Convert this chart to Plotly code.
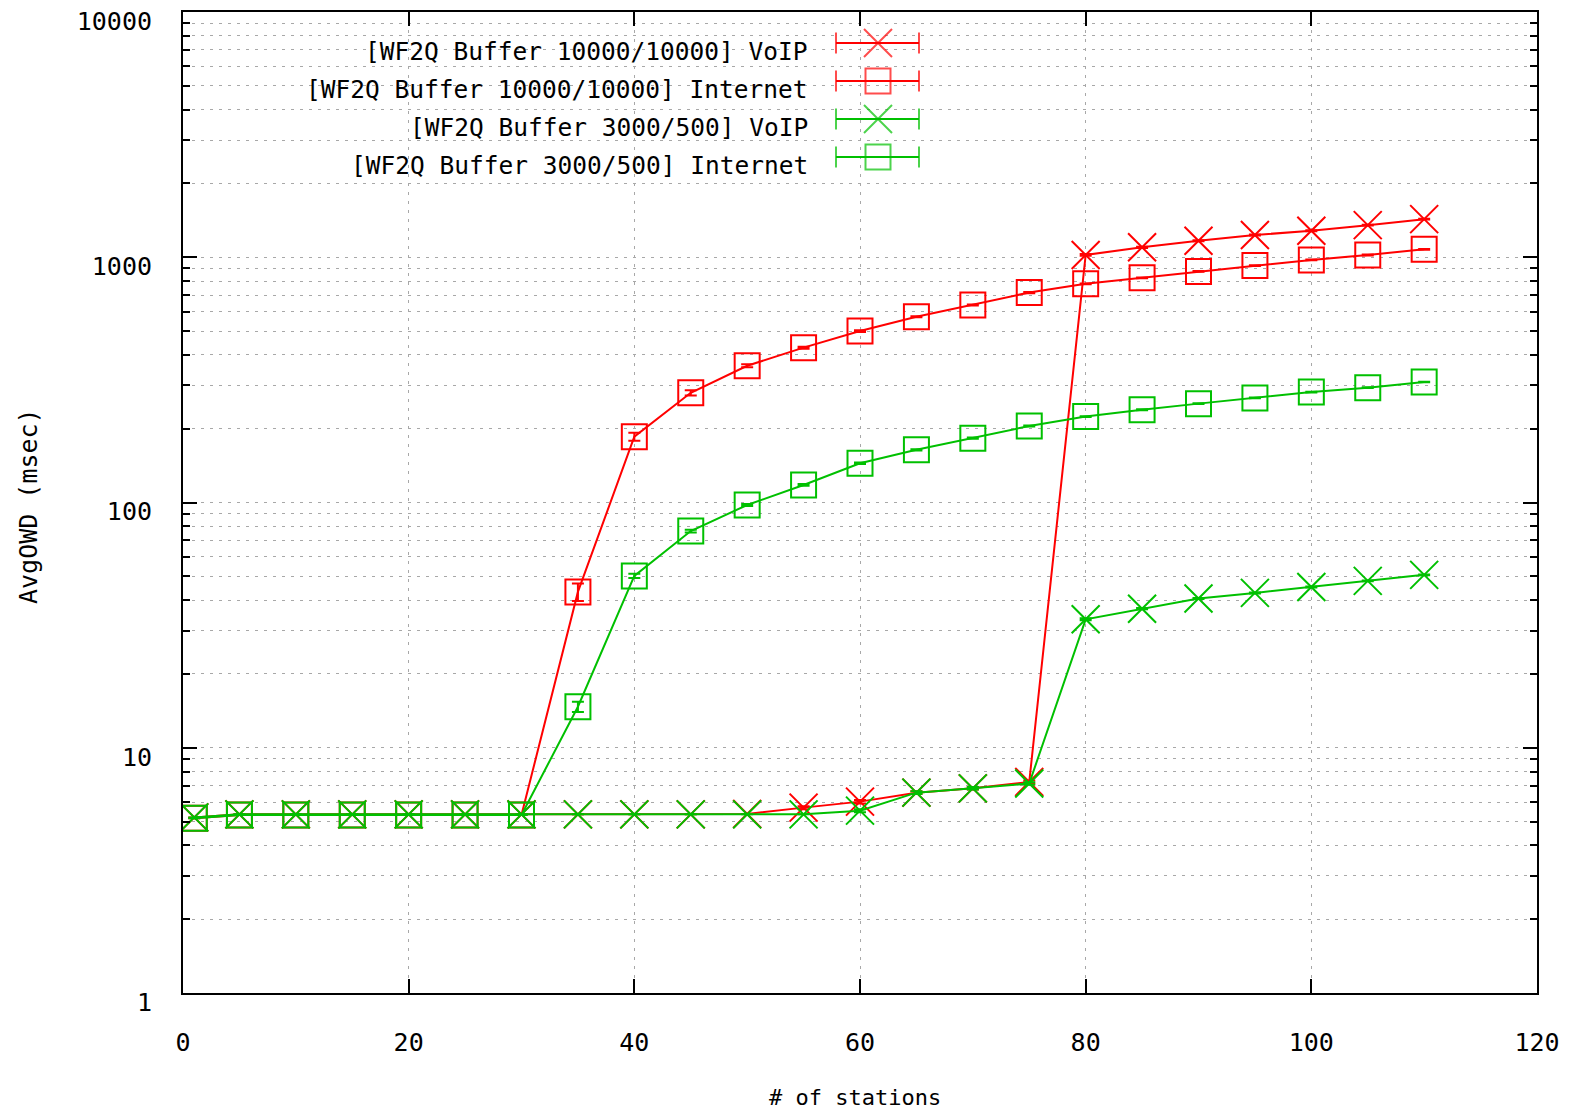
import plotly.graph_objects as go

# ---- data -------------------------------------------------------------
stations = [1, 5, 10, 15, 20, 25, 30, 35, 40, 45, 50, 55, 60, 65, 70, 75,
            80, 85, 90, 95, 100, 105, 110]

red_voip = [5.2, 5.35, 5.35, 5.35, 5.35, 5.35, 5.35, 5.35, 5.35, 5.35, 5.37,
            5.7, 6.03, 6.56, 6.83, 7.25, 1022, 1098, 1168, 1232, 1283, 1352, 1430]
red_voip_err = [0, 0, 0, 0, 0, 0, 0, 0, 0, 0, 0, 0.08, 0.1, 0.08, 0.08, 0.1,
                8, 6, 6, 6, 6, 6, 6]

red_internet = [5.16, 5.32, 5.32, 5.32, 5.32, 5.32, 5.32, 43.2, 185.5, 280,
                361, 428, 500, 572, 639, 718, 779, 824, 875, 925, 975, 1022, 1077]
red_internet_err = [0, 0, 0, 0, 0, 0, 0, 3.5, 7, 7, 5, 4, 4, 3, 3, 4,
                    3, 3, 3, 3, 3, 5, 3]

green_voip = [5.2, 5.35, 5.35, 5.35, 5.35, 5.35, 5.35, 5.35, 5.35, 5.35, 5.35,
              5.35, 5.54, 6.56, 6.83, 7.15, 33.4, 36.9, 40.6, 42.8, 45.2, 47.9, 50.7]
green_voip_err = [0, 0, 0, 0, 0, 0, 0, 0, 0, 0, 0, 0, 0.08, 0.08, 0.08, 0.08,
                  0.3, 0.2, 0.2, 0.2, 0.2, 0.2, 0.2]

green_internet = [5.16, 5.32, 5.32, 5.32, 5.32, 5.32, 5.32, 14.7, 50.2, 76.5,
                  97.7, 117.9, 144.5, 164, 183, 205, 224, 239, 253, 267, 282, 294, 310]
green_internet_err = [0, 0, 0, 0, 0, 0, 0, 0.7, 1.0, 1.0, 1.0, 1.0, 1.0, 1.0,
                      1.0, 1.0, 1.0, 1.0, 1.0, 1.0, 1.0, 1.0, 1.0]

series_names = ["[WF2Q Buffer 10000/10000] VoIP",
                "[WF2Q Buffer 10000/10000] Internet",
                "[WF2Q Buffer 3000/500] VoIP",
                "[WF2Q Buffer 3000/500] Internet"]

x_ticks = [0, 20, 40, 60, 80, 100, 120]
y_ticks = [1, 10, 100, 1000, 10000]

# ---- style --------------------------------------------------------------
RED = "#ff0000"
GREEN = "#00c000"
FONT = "DejaVu Sans Mono"
GRID = "#a8a8a8"
DASH = "3px,6px"
W, H = 1571, 1113
ML, MR, MT, MB = 183, 34, 12, 120

series = [
    (series_names[0], red_voip, red_voip_err, RED, "x-thin-open", 28),
    (series_names[1], red_internet, red_internet_err, RED, "square-open", 25),
    (series_names[2], green_voip, green_voip_err, GREEN, "x-thin-open", 28),
    (series_names[3], green_internet, green_internet_err, GREEN, "square-open", 25),
]

fig = go.Figure()

for name, ys, errs, color, symbol, size in series:
    fig.add_trace(go.Scatter(
        x=stations, y=ys, name=name, mode="lines+markers",
        line=dict(color=color, width=2),
        marker=dict(symbol=symbol, size=size, color=color,
                    line=dict(color=color, width=2)),
        error_y=dict(type="data", array=errs, visible=True, color=color,
                     thickness=2, width=6),
        showlegend=False,
    ))

# empty traces that keep the mirrored tick axes (right and top) alive
fig.add_trace(go.Scatter(x=[None], y=[None], yaxis="y3", showlegend=False,
                         hoverinfo="skip"))
fig.add_trace(go.Scatter(x=[None], y=[None], xaxis="x4", showlegend=False,
                         hoverinfo="skip"))

# key samples drawn in a pixel-space overlay (symbol to the right of the text)
key_rows = [43, 81, 119, 157]
key_x = [836, 878, 919]
for (name, ys, errs, color, symbol, size), ky in zip(series, key_rows):
    fig.add_trace(go.Scatter(
        x=key_x, y=[ky] * 3, xaxis="x2", yaxis="y2", mode="lines+markers",
        line=dict(color=color, width=2),
        marker=dict(symbol=["line-ns-open", symbol, "line-ns-open"],
                    size=[15, size, 15], color=color,
                    line=dict(color=color, width=2)),
        showlegend=False, hoverinfo="skip",
    ))
    fig.add_annotation(x=810, y=ky + 8, xref="x2", yref="y2", text=name,
                       showarrow=False, xanchor="right", yanchor="middle",
                       font=dict(family=FONT, size=24.5, color="black"))

pw = W - ML - MR
ph = H - MT - MB


def px_to_paper(px, py):
    return (px - ML) / pw, (H - MB - py) / ph


ax, ay = px_to_paper(855, 1097)
fig.add_annotation(x=ax, y=ay, xref="paper", yref="paper", text="# of stations",
                   showarrow=False, xanchor="center", yanchor="middle",
                   font=dict(family=FONT, size=22, color="black"))
bx, by = px_to_paper(28, 506)
fig.add_annotation(x=bx, y=by, xref="paper", yref="paper", text="AvgOWD (msec)",
                   showarrow=False, textangle=-90, xanchor="center", yanchor="middle",
                   font=dict(family=FONT, size=25, color="black"))

minor_y = dict(dtick="D1", ticks="inside", ticklen=7, tickwidth=2,
               tickcolor="black", showgrid=True, gridcolor=GRID,
               gridwidth=1.2, griddash=DASH)

fig.update_layout(
    width=W, height=H,
    margin=dict(l=ML, r=MR, t=MT, b=MB, pad=0),
    paper_bgcolor="white", plot_bgcolor="white",
    font=dict(family=FONT, size=25, color="black"),
    xaxis=dict(
        range=[0, 120], tickvals=x_ticks, ticktext=[str(v) for v in x_ticks],
        ticks="inside", ticklen=14, tickwidth=2, tickcolor="black",
        showline=True, linewidth=2, linecolor="black", mirror=True,
        showgrid=True, gridcolor=GRID, gridwidth=1.2, griddash=DASH,
        zeroline=False, ticklabelstandoff=26, ticklabeloverflow="allow",
        automargin=False,
    ),
    xaxis4=dict(
        range=[0, 120], tickvals=x_ticks, overlaying="x", side="top",
        anchor="y", showticklabels=False, automargin=False,
        ticks="inside", ticklen=14, tickwidth=2, tickcolor="black",
        showline=False, showgrid=False, zeroline=False,
    ),
    yaxis=dict(
        type="log", range=[0, 4], tickvals=y_ticks,
        ticktext=[str(v) for v in y_ticks],
        ticks="inside", ticklen=14, tickwidth=2, tickcolor="black",
        showline=True, linewidth=2, linecolor="black", mirror=True,
        showgrid=True, gridcolor=GRID, gridwidth=1.2, griddash=DASH,
        minor=minor_y,
        zeroline=False, ticklabelstandoff=24, ticklabelshift=9,
        ticklabeloverflow="allow", automargin=False,
    ),
    yaxis3=dict(
        type="log", range=[0, 4], tickvals=y_ticks, overlaying="y",
        side="right", anchor="x", showticklabels=False, automargin=False,
        ticks="inside", ticklen=14, tickwidth=2, tickcolor="black",
        showline=False, showgrid=False, zeroline=False,
        minor=dict(dtick="D1", ticks="inside", ticklen=7, tickwidth=2,
                   tickcolor="black", showgrid=False),
    ),
    xaxis2=dict(range=[ML, W - MR], overlaying="x", anchor="y2", visible=False,
                automargin=False),
    yaxis2=dict(range=[H - MB, MT], overlaying="y", anchor="x2", visible=False,
                automargin=False),
)

fig.write_html("out.html")
